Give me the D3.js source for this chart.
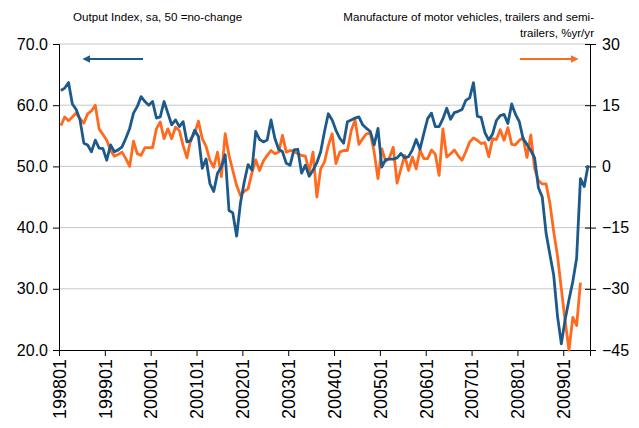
<!DOCTYPE html>
<html>
<head>
<meta charset="utf-8">
<script src="https://cdn.jsdelivr.net/npm/d3@7"></script>
<style>
  body { margin: 0; background: #fff; }
  text { font-family: "Liberation Sans", Arial, sans-serif; fill: #000; }
</style>
</head>
<body>
<div id="chart"></div>
<script>
const width = 639;
const height = 428;

// monthly categories 199801 .. 200907
const months = [];
for (let y = 1998; y <= 2009; y++) {
    for (let m = 1; m <= 12; m++) {
        if (y === 2009 && m > 7) break;
        months.push(String(y) + (m < 10 ? "0" + m : m));
    }
}

const tickLabels = ["199801", "199901", "200001", "200101", "200201", "200301",
    "200401", "200501", "200601", "200701", "200801", "200901"];

const leftTicks = [20, 30, 40, 50, 60, 70];
const rightTicks = [-45, -30, -15, 0, 15, 30];

// Output Index, sa (left axis)
const outputIndex = [
    62.4, 62.8, 63.7, 60.2, 59.3, 57.6, 53.8, 53.5, 52.4, 54.3, 53.0, 52.9,
    51.0, 53.5, 52.4, 52.7, 53.2, 54.6, 56.2, 58.7, 59.8, 61.4, 60.6, 60.0,
    60.6, 57.9, 58.1, 60.6, 58.7, 56.8, 57.6, 56.5, 57.3, 54.0, 54.2, 55.9,
    54.9, 49.7, 51.2, 47.2, 45.9, 48.9, 49.9, 51.9, 42.8, 42.4, 38.6, 44.0,
    47.5, 50.3, 49.4, 55.7, 54.4, 54.0, 54.3, 57.6, 54.6, 52.8, 52.4, 50.5,
    50.2, 52.7, 52.8, 48.9, 50.2, 48.4, 49.4, 50.6, 52.4, 55.7, 58.6, 57.6,
    55.9, 54.6, 53.8, 57.3, 57.6, 57.9, 58.1, 56.8, 56.2, 55.7, 53.5, 56.2,
    49.9, 51.1, 51.2, 51.2, 51.4, 52.1, 51.4, 51.6, 52.7, 54.4, 52.8, 55.4,
    57.8, 58.7, 56.5, 56.5, 57.8, 59.5, 57.7, 58.8, 59.0, 59.3, 60.8, 61.2,
    63.7, 58.2, 58.0, 55.5, 54.3, 55.3, 57.5, 58.3, 58.5, 57.0, 60.2, 58.5,
    57.3, 54.5, 53.6, 52.6, 51.4, 46.5, 45.0, 39.1, 35.6, 32.2, 25.5, 21.0,
    25.0, 28.2, 31.2, 35.0, 48.0, 46.7, 50.2
];

// Manufacture of motor vehicles, %yr/yr (right axis)
const motorVehicles = [
    10.0, 12.1, 11.2, 12.1, 13.1, 11.7, 10.6, 12.9, 13.6, 15.0, 9.2, 7.8,
    6.4, 3.9, 2.5, 2.9, 3.5, 1.9, 0.0, 6.2, 3.1, 2.7, 4.6, 4.6,
    4.6, 9.2, 10.9, 6.8, 9.2, 6.8, 9.6, 8.8, 5.1, 2.1, 6.8, 8.0,
    11.1, 6.8, 4.9, 1.5, -0.2, 3.5, -2.5, 8.0, 2.7, -1.0, -4.7, -7.1,
    -6.1, -5.5, -1.6, 1.6, -1.0, 1.3, 2.7, 3.9, 3.1, 3.5, 7.6, 3.5,
    3.9, 3.7, 3.1, 2.7, 2.5, -1.3, 3.5, -7.5, -0.6, 1.1, 5.1, 8.0,
    0.7, 3.5, 3.9, 3.9, 8.8, 11.4, 5.4, 6.8, 8.0, 8.2, 3.5, -3.0,
    4.3, 1.3, 2.1, 4.7, -4.1, -0.6, 2.7, -1.0, 2.3, -0.6, 4.0, 1.9,
    1.9, 4.0, 3.0, -2.2, 9.2, 2.3, 3.1, 4.0, 2.6, 1.5, 3.6, 6.0,
    7.0, 6.4, 5.6, 5.8, 2.4, 6.8, 6.6, 9.0, 6.4, 9.5, 5.4, 5.3,
    6.4, 7.0, 2.2, 7.7, -0.5, -3.5, -4.3, -4.3, -9.0, -16.0, -22.0, -30.0,
    -38.0, -45.0, -37.0, -39.0, -28.5
];

const margin = { top: 44, right: 49, bottom: 78, left: 59 };
const innerW = width - margin.left - margin.right;
const innerH = height - margin.top - margin.bottom;

const svg = d3.select("#chart").append("svg")
    .attr("width", width)
    .attr("height", height);

const g = svg.append("g")
    .attr("transform", `translate(${margin.left},${margin.top})`);

const x = d3.scaleLinear().domain([-0.5, months.length - 0.5]).range([0, innerW]);
const yL = d3.scaleLinear().domain([20, 70]).range([innerH, 0]);
const yR = d3.scaleLinear().domain([-45, 30]).range([innerH, 0]);

// gridlines
g.selectAll("line.grid")
    .data(leftTicks.slice(1))
    .join("line")
    .attr("class", "grid")
    .attr("x1", 0)
    .attr("x2", innerW)
    .attr("y1", d => yL(d))
    .attr("y2", d => yL(d))
    .style("stroke", "#c8c8c8")
    .style("stroke-width", 1);

// x axis
const xTickIdx = tickLabels.map(t => months.indexOf(t));
const xAxis = g.append("g")
    .attr("transform", `translate(0,${innerH})`)
    .call(d3.axisBottom(x)
        .tickValues(xTickIdx.map(i => i - 0.5))
        .tickFormat((d, i) => tickLabels[i])
        .tickSizeOuter(0)
        .tickSize(6));
xAxis.selectAll("text")
    .attr("transform", "rotate(-90)")
    .attr("text-anchor", "end")
    .attr("x", -9)
    .attr("y", 0)
    .attr("dy", "0.35em")
    .style("font-size", "18px");

// left axis
const leftAxis = g.append("g")
    .call(d3.axisLeft(yL)
        .tickValues(leftTicks)
        .tickFormat(d3.format(".1f"))
        .tickSizeOuter(0)
        .tickSize(6)
        .tickPadding(5));
leftAxis.selectAll("text").style("font-size", "16px");

// right axis, ticks cross the line
const rightAxis = g.append("g")
    .attr("transform", `translate(${innerW},0)`)
    .call(d3.axisRight(yR)
        .tickValues(rightTicks)
        .tickSizeOuter(0)
        .tickSize(6)
        .tickPadding(6));
rightAxis.selectAll(".tick line").attr("x1", -5);
rightAxis.selectAll("text").style("font-size", "16px");

g.selectAll(".domain").style("stroke", "#000");
g.selectAll(".tick line").style("stroke", "#000");

// series
const lineL = d3.line().x((d, i) => x(i)).y(d => yL(d));
const lineR = d3.line().x((d, i) => x(i)).y(d => yR(d));

g.append("path")
    .datum(motorVehicles)
    .attr("d", lineR)
    .style("fill", "none")
    .style("stroke", "#ff6a1f")
    .style("stroke-width", 2.8)
    .style("stroke-linejoin", "round");

g.append("path")
    .datum(outputIndex)
    .attr("d", lineL)
    .style("fill", "none")
    .style("stroke", "#1c5a8c")
    .style("stroke-width", 2.8)
    .style("stroke-linejoin", "round");

// titles
svg.append("text")
    .attr("x", 73)
    .attr("y", 21)
    .style("font-size", "11.6px")
    .text("Output Index, sa, 50 =no-change");

svg.append("text")
    .attr("x", 594)
    .attr("y", 21)
    .attr("text-anchor", "end")
    .style("font-size", "11.6px")
    .text("Manufacture of motor vehicles, trailers and semi-");

svg.append("text")
    .attr("x", 594)
    .attr("y", 37)
    .attr("text-anchor", "end")
    .style("font-size", "11.6px")
    .text("trailers, %yr/yr");

// arrows
const defs = svg.append("defs");
[["arrowBlue", "#1c5a8c"], ["arrowOrange", "#ff6a1f"]].forEach(([id, c]) => {
    defs.append("marker")
        .attr("id", id)
        .attr("viewBox", "0 0 10 10")
        .attr("refX", 8)
        .attr("refY", 5)
        .attr("markerWidth", 4)
        .attr("markerHeight", 4)
        .attr("orient", "auto")
        .append("path")
        .attr("d", "M0,0L10,5L0,10Z")
        .style("fill", c);
});

svg.append("line")
    .attr("x1", 143).attr("y1", 59)
    .attr("x2", 84).attr("y2", 59)
    .style("stroke", "#1c5a8c")
    .style("stroke-width", 2)
    .attr("marker-end", "url(#arrowBlue)");

svg.append("line")
    .attr("x1", 520).attr("y1", 59)
    .attr("x2", 577).attr("y2", 59)
    .style("stroke", "#ff6a1f")
    .style("stroke-width", 2)
    .attr("marker-end", "url(#arrowOrange)");
</script>
</body>
</html>
